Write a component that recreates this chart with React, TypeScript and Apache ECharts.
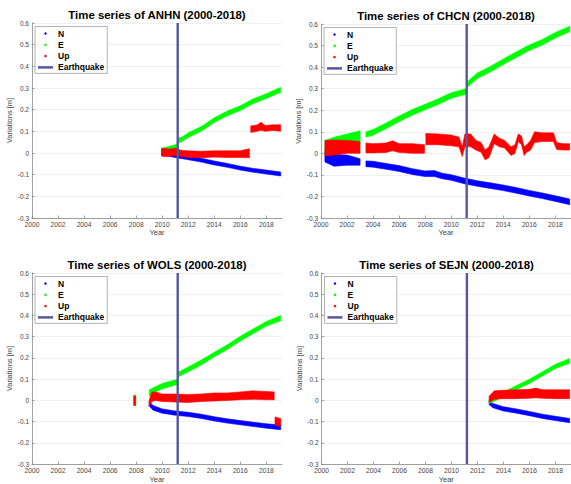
import React, { useEffect, useRef } from "react";
import * as echarts from "echarts";

type Row = [number, number | null, number | null];

// ---- data: [year, lower, upper] of each point cloud (m) ----
const ANHN_N: Row[] = [
  [2009.95, -0.011, 0.006], [2010.5, -0.015, 0.002], [2011, -0.021, -0.003], [2012, -0.031, -0.013],
  [2013, -0.042, -0.024], [2014, -0.055, -0.037], [2015, -0.066, -0.048], [2016, -0.079, -0.061],
  [2017, -0.089, -0.071], [2018, -0.097, -0.079], [2019.1, -0.106, -0.088],
];
const ANHN_E: Row[] = [
  [2009.95, -0.002, 0.022], [2010.5, 0.006, 0.03], [2011.0, 0.014, 0.038], [2011.18, 0.018, 0.045],
  [2011.22, 0.045, 0.068], [2011.6, 0.055, 0.076], [2012, 0.072, 0.094], [2013, 0.1, 0.122],
  [2014, 0.141, 0.163], [2015, 0.172, 0.194], [2016, 0.196, 0.218], [2017, 0.228, 0.25],
  [2018, 0.252, 0.274], [2019.1, 0.28, 0.303],
];
const ANHN_UP: Row[] = [
  [2009.95, -0.015, 0.022], [2010.5, -0.016, 0.018], [2011, -0.012, 0.022], [2011.5, -0.017, 0.012],
  [2012, -0.021, 0.01], [2013, -0.022, 0.008], [2014, -0.019, 0.01], [2015, -0.021, 0.01],
  [2016, -0.021, 0.01], [2016.7, -0.022, 0.02], [2016.75, null, null], [2016.8, 0.095, 0.125],
  [2017.3, 0.1, 0.13], [2017.6, 0.105, 0.142], [2017.9, 0.1, 0.127], [2018.5, 0.104, 0.13],
  [2019.1, 0.1, 0.13],
];

const CHCN_N: Row[] = [
  [2000.3, -0.04, 0.012], [2001, -0.06, -0.005], [2002, -0.055, -0.008], [2003, -0.055, -0.025],
  [2003.05, null, null], [2003.45, -0.062, -0.035], [2004, -0.064, -0.037], [2005, -0.074, -0.047],
  [2006, -0.084, -0.057], [2007, -0.098, -0.071], [2008, -0.108, -0.082], [2008.7, -0.107, -0.08],
  [2009.3, -0.118, -0.092], [2010, -0.125, -0.099], [2011, -0.141, -0.115], [2012, -0.153, -0.127],
  [2013, -0.163, -0.137], [2014, -0.173, -0.147], [2015, -0.185, -0.159], [2016, -0.198, -0.172],
  [2017, -0.21, -0.184], [2018, -0.223, -0.197], [2019.1, -0.238, -0.212],
];
const CHCN_E: Row[] = [
  [2000.3, -0.01, 0.06], [2001, 0.0, 0.075], [2002, 0.02, 0.09], [2003, 0.04, 0.105],
  [2003.05, null, null], [2003.45, 0.075, 0.1], [2004, 0.084, 0.11], [2005, 0.115, 0.141],
  [2006, 0.147, 0.173], [2007, 0.177, 0.203], [2008, 0.202, 0.228], [2009, 0.227, 0.253],
  [2010, 0.255, 0.281], [2011.18, 0.275, 0.301], [2011.22, 0.305, 0.331], [2012, 0.347, 0.373],
  [2013, 0.377, 0.403], [2014, 0.412, 0.438], [2015, 0.445, 0.471], [2016, 0.477, 0.503],
  [2017, 0.502, 0.528], [2018, 0.535, 0.561], [2019.1, 0.564, 0.59],
];
const CHCN_UP: Row[] = [
  [2000.3, -0.012, 0.06], [2001, -0.008, 0.062], [2002, 0.0, 0.06], [2003, 0.0, 0.055],
  [2003.05, null, null], [2003.45, 0.002, 0.048], [2004, 0.002, 0.045], [2005, 0.004, 0.048],
  [2005.5, 0.012, 0.058], [2006, 0.004, 0.045], [2007, 0.0, 0.045], [2007.95, 0.0, 0.04],
  [2008.0, null, null], [2008.05, 0.04, 0.092], [2009, 0.04, 0.09], [2010, 0.035, 0.085],
  [2010.6, 0.03, 0.075], [2010.85, -0.015, 0.03], [2011.05, 0.03, 0.09], [2011.5, 0.03, 0.09],
  [2011.9, 0.015, 0.06], [2012.3, 0.005, 0.05], [2012.6, -0.03, 0.015], [2012.9, -0.02, 0.03],
  [2013.3, 0.045, 0.09], [2013.7, 0.03, 0.07], [2014.1, 0.025, 0.06], [2014.6, -0.01, 0.03],
  [2014.9, 0.0, 0.04], [2015.15, 0.055, 0.09], [2015.4, 0.04, 0.08], [2015.6, -0.01, 0.03],
  [2015.8, 0.005, 0.04], [2016.1, 0.015, 0.06], [2016.4, 0.05, 0.1], [2017, 0.055, 0.095],
  [2017.85, 0.055, 0.095], [2018.1, 0.018, 0.05], [2018.6, 0.015, 0.045], [2019.1, 0.015, 0.045],
];

const WOLS_N: Row[] = [
  [2009.0, -0.026, -0.005], [2009.3, -0.046, -0.024], [2010, -0.06, -0.04], [2011, -0.07, -0.05],
  [2012, -0.076, -0.056], [2013, -0.085, -0.065], [2014, -0.097, -0.077], [2015, -0.107, -0.087],
  [2016, -0.115, -0.095], [2017, -0.123, -0.103], [2018, -0.131, -0.11], [2019.1, -0.138, -0.116],
];
const WOLS_E: Row[] = [
  [2007.8, -0.025, 0.025], [2007.98, -0.025, 0.025], [2008.0, null, null],
  [2009.0, 0.02, 0.05], [2009.5, 0.04, 0.065], [2010, 0.055, 0.08], [2010.6, 0.065, 0.09],
  [2011.18, 0.075, 0.1], [2011.22, 0.11, 0.133], [2012, 0.135, 0.157], [2013, 0.167, 0.19],
  [2014, 0.205, 0.227], [2015, 0.24, 0.262], [2016, 0.28, 0.302], [2017, 0.315, 0.337],
  [2018, 0.35, 0.372], [2019.1, 0.375, 0.4],
];
const WOLS_UP: Row[] = [
  [2007.82, -0.023, 0.02], [2007.96, -0.023, 0.02], [2008.0, null, null],
  [2009.0, -0.03, 0.0], [2009.2, -0.005, 0.04], [2009.5, 0.0, 0.04], [2010, -0.005, 0.03],
  [2011, -0.008, 0.03], [2012, -0.01, 0.028], [2013, -0.005, 0.03], [2014, -0.003, 0.035],
  [2015, 0.0, 0.035], [2016, 0.003, 0.04], [2017, 0.005, 0.045], [2018, 0.003, 0.042],
  [2018.6, 0.003, 0.04], [2018.63, null, null], [2018.66, -0.118, -0.078], [2019.1, -0.12, -0.085],
];

const SEJN_N: Row[] = [
  [2012.9, -0.02, 0.0], [2013.2, -0.035, -0.015], [2014, -0.05, -0.03], [2015, -0.06, -0.04],
  [2016, -0.072, -0.052], [2017, -0.085, -0.065], [2018, -0.095, -0.075], [2019.1, -0.105, -0.085],
];
const SEJN_E: Row[] = [
  [2012.9, -0.015, 0.005], [2013.5, 0.002, 0.022], [2014, 0.02, 0.04], [2015, 0.05, 0.07],
  [2016, 0.08, 0.1], [2017, 0.115, 0.135], [2018, 0.15, 0.17], [2019.1, 0.175, 0.197],
];
const SEJN_UP: Row[] = [
  [2012.9, -0.01, 0.02], [2013.3, 0.005, 0.045], [2014, 0.008, 0.048], [2015, 0.008, 0.05],
  [2016, 0.01, 0.052], [2016.5, 0.012, 0.058], [2017, 0.01, 0.05], [2018, 0.008, 0.05],
  [2019.1, 0.008, 0.05],
];

const STATIONS = ["ANHN", "CHCN", "WOLS", "SEJN"];
const SERIES_NAMES = ["N", "E", "Up", "Earthquake"];
const EARTHQUAKE_YEAR = 2011.19;
const X_RANGE = [2000, 2019.2];
const Y_RANGE = [-0.3, 0.6];

const DATA: Row[][][] = [
  [ANHN_N, ANHN_E, ANHN_UP],
  [CHCN_N, CHCN_E, CHCN_UP],
  [WOLS_N, WOLS_E, WOLS_UP],
  [SEJN_N, SEJN_E, SEJN_UP],
];

const COLORS = ["#0000ff", "#00ff00", "#ff0000"];
const QUAKE_COLOR = "#5557a0";
const FONT = "Liberation Sans, Arial, Helvetica, sans-serif";

const GRIDS = [
  { left: 32, top: 23, width: 250, height: 195 },
  { left: 321, top: 24, width: 252, height: 194 },
  { left: 32, top: 273, width: 250, height: 195 },
  { left: 321.5, top: 273, width: 252, height: 195 },
];

function bandSeries(gi: number, name: string, color: string, rows: Row[]) {
  const valid = rows.filter((r) => r[1] != null);
  return {
    type: "custom",
    name,
    xAxisIndex: gi,
    yAxisIndex: gi,
    clip: true,
    itemStyle: { color },
    encode: { x: 0, y: [1, 2] },
    data: valid,
    silent: true,
    renderItem: (params: any, api: any) => {
      if (params.dataIndex !== 0) return null;
      const segs: Row[][] = [];
      let cur: Row[] = [];
      for (const r of rows) {
        if (r[1] == null) {
          if (cur.length) segs.push(cur);
          cur = [];
        } else cur.push(r);
      }
      if (cur.length) segs.push(cur);
      return {
        type: "group",
        children: segs.map((seg) => {
          const top = seg.map((r) => api.coord([r[0], r[2]]));
          const bot = seg.slice().reverse().map((r) => api.coord([r[0], r[1]]));
          return {
            type: "polygon",
            shape: { points: top.concat(bot) },
            style: { fill: color, stroke: color, lineWidth: 0.6 },
          };
        }),
      };
    },
  };
}

const yFmt = (v: number) => {
  const r = Math.round(v * 10) / 10;
  return r === 0 ? "0" : String(r);
};

export default function App() {
  const ref = useRef<HTMLDivElement>(null);
  useEffect(() => {
    if (!ref.current) return;
    const chart = echarts.init(ref.current, null, { renderer: "svg" });
    const series: any[] = [];
    DATA.forEach((comps, gi) => {
      comps.forEach((rows, ci) => series.push(bandSeries(gi, SERIES_NAMES[ci], COLORS[ci], rows)));
      series.push({
        type: "line",
        name: "Earthquake",
        xAxisIndex: gi,
        yAxisIndex: gi,
        data: [
          [EARTHQUAKE_YEAR, Y_RANGE[0]],
          [EARTHQUAKE_YEAR, Y_RANGE[1]],
        ],
        symbol: "none",
        color: QUAKE_COLOR,
        lineStyle: { color: QUAKE_COLOR, width: 2.4 },
        silent: true,
        z: 5,
      });
    });

    const axisColor = "#8a8a8a";
    const option: any = {
      animation: false,
      backgroundColor: "#ffffff",
      grid: GRIDS.map((g) => ({ ...g, containLabel: false })),
      xAxis: GRIDS.map((_, gi) => ({
        type: "value",
        gridIndex: gi,
        min: X_RANGE[0],
        max: X_RANGE[1],
        interval: 2,
        axisLine: { show: true, onZero: false, lineStyle: { color: axisColor, width: 0.8 } },
        axisTick: { show: true, inside: true, length: 2.5, lineStyle: { color: axisColor, width: 0.8 } },
        axisLabel: {
          fontSize: 6.7,
          color: "#444",
          margin: 3,
          fontFamily: FONT,
          showMaxLabel: false,
          formatter: (v: number) => String(Math.round(v)),
        },
        splitLine: { show: false },
        name: "Year",
        nameLocation: "middle",
        nameGap: 10,
        nameTextStyle: { fontSize: 7.5, color: "#444", fontFamily: FONT },
      })),
      yAxis: GRIDS.map((_, gi) => ({
        type: "value",
        gridIndex: gi,
        min: Y_RANGE[0],
        max: Y_RANGE[1],
        interval: 0.1,
        axisLine: { show: true, onZero: false, lineStyle: { color: axisColor, width: 0.8 } },
        axisTick: { show: true, inside: true, length: 2.5, lineStyle: { color: axisColor, width: 0.8 } },
        axisLabel: { fontSize: 6.5, color: "#444", margin: 3, fontFamily: FONT, formatter: yFmt },
        splitLine: { show: true, lineStyle: { color: "#ececec", width: 0.8 } },
        name: "Variations [m]",
        nameLocation: "middle",
        nameGap: 16,
        nameTextStyle: { fontSize: 7.5, color: "#444", fontFamily: FONT },
      })),
      legend: GRIDS.map((g) => ({
        left: g.left + 3,
        top: g.top + 3.5,
        orient: "vertical",
        itemWidth: 15,
        itemHeight: 2.5,
        itemGap: 1.3,
        padding: [2, 3, 1, 3],
        backgroundColor: "#ffffff",
        borderColor: "#a0a0a0",
        borderWidth: 0.8,
        selectedMode: false,
        textStyle: { fontSize: 8.5, fontWeight: "bold", color: "#000", lineHeight: 10, fontFamily: FONT },
        data: [
          { name: "N", icon: "circle" },
          { name: "E", icon: "circle" },
          { name: "Up", icon: "circle" },
          { name: "Earthquake", icon: "rect" },
        ],
      })),
      graphic: GRIDS.map((g, gi) => ({
        type: "text",
        x: g.left + 125,
        y: g.top - 8,
        style: {
          text: `Time series of ${STATIONS[gi]} (2000-2018)`,
          align: "center",
          verticalAlign: "middle",
          font: `bold 11.4px ${FONT}`,
          fill: "#000",
        },
      })),
      series,
    };
    chart.setOption(option);
    return () => chart.dispose();
  }, []);
  return <div ref={ref} style={{ position: "absolute", left: 0, top: 0, width: 571, height: 484 }} />;
}
